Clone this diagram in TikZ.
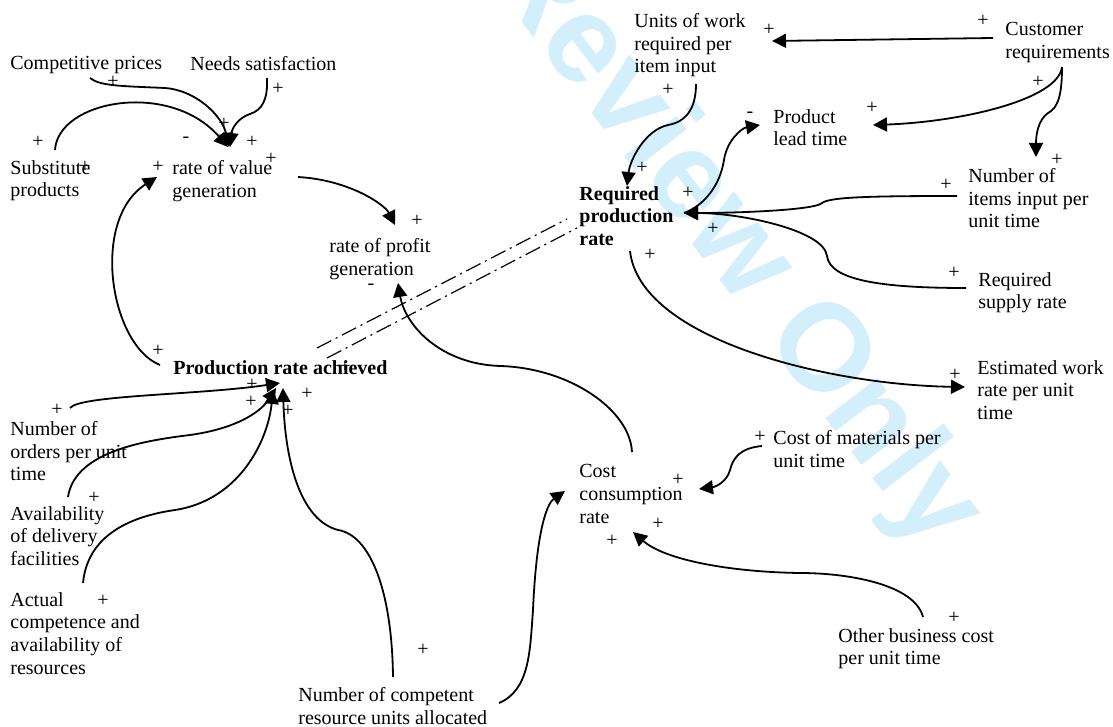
\documentclass[tikz,border=0pt]{standalone}
\usepackage{fontspec}
\setmainfont{Liberation Serif}
\newfontfamily\markfont{Liberation Sans}
\usetikzlibrary{arrows.meta}
\definecolor{markblue}{RGB}{212,239,252}

\begin{document}
\begin{tikzpicture}[x=0.5pt, y=-0.5pt,
every node/.style={inner sep=0pt, anchor=north west, align=left, font=\fontsize{10}{11.35}\selectfont},
key/.style={font=\fontsize{10}{11.35}\selectfont\bfseries},
sign/.style={anchor=center},
link/.style={line width=0.9pt, -{Triangle[length=7pt,width=7pt]}},
compare/.style={line width=0.6pt, dash pattern=on 8pt off 2.5pt on 1pt off 2.5pt}]

\useasboundingbox (0,0) rectangle (1113,727);
% watermark
\begin{scope}
\clip (0,0) rectangle (1113,727);
\node[anchor=center, rotate=-52.5, text=markblue, font=\markfont\bfseries\fontsize{62}{68}\selectfont] (mark) at (731,242) {Review Only};
\end{scope}

% left half
\node (compet) at (10,56) {Competitive prices};
\node (needs) at (190,56) {Needs satisfaction};
\node (subst) at (10,160) {Substitute\\products};
\node (value) at (172,160) {rate of value\\generation};
\node (profit) at (329,238) {rate of profit\\generation};
\node[key] (achieved) at (173,360) {Production rate achieved};
\node (orders) at (10,421) {Number of\\orders per unit\\time};
\node (delivery) at (10,506) {Availability\\of delivery\\facilities};
\node (competence) at (10,592) {Actual\\competence and\\availability of\\resources};
\node (units) at (298,687) {Number of competent\\resource units allocated};

% right half
\node (work) at (634,13) {Units of work\\required per\\item input};
\node (customer) at (1005,22) {Customer\\requirements};
\node (lead) at (773,109) {Product\\lead time};
\node[key] (required) at (579,186) {Required\\production\\rate};
\node (items) at (968,168) {Number of\\items input per\\unit time};
\node (supply) at (978,272) {Required\\supply rate};
\node (estimated) at (977,360) {Estimated work\\rate per unit\\time};
\node (materials) at (773,430) {Cost of materials per\\unit time};
\node (cost) at (579,464) {Cost\\consumption\\rate};
\node (other) at (838,628) {Other business cost\\per unit time};

% polarity signs
\foreach \sx/\sy/\sg [count=\i] in {113/82/+, 278/89/+, 224/124/+, 186/140/-, 252/142/+,
  38/142/+, 271/159/+, 158/167/+, 85/167/+, 417/221/+, 371/287/-, 158/351/+, 345/367/+,
  252/385/+, 251/402/+, 307/394/+, 288/411/+, 57/410/+, 94/498/+, 103/601/+, 423/650/+,
  769/30/+, 983/21/+, 668/90/+, 750/115/-, 872/108/+, 1038/82/+, 642/168/+, 688/193/+,
  1057/160/+, 946/185/+, 713/229/+, 650/255/+, 954/273/+, 955/375/+, 760/437/+,
  678/480/+, 658/524/+, 612/541/+, 954/618/+}
  \node[sign] (s\i) at (\sx,\sy) {\sg};

% links into rate of value generation
\draw[link] ([shift={(80,22)}]compet.north west) .. controls (100,86) and (120,86) .. (165,88)
  .. controls (195,90) and (222,115) .. ([shift={(57,-13)}]value.north west);
\draw[link] ([shift={(77,22)}]needs.north west) .. controls (268,100) and (262,110) .. (250,114)
  .. controls (238,118) and (232,128) .. ([shift={(58,-13)}]value.north west);
\draw[link] ([shift={(45,-10)}]subst.north west) .. controls (58,100) and (170,80) .. ([shift={(56,-13)}]value.north west);
\draw[link] ([shift={(-13,5)}]achieved.north west) .. controls (110,345) and (90,220) .. ([shift={(-15,17)}]value.north west);

% links into rate of profit generation
\draw[link] ([shift={(126,17)}]value.north west) .. controls (350,180) and (385,205) .. ([shift={(66,-13)}]profit.north west);
\draw[link] ([shift={(53,-12)}]cost.north west) .. controls (630,410) and (570,368) .. (500,366)
  .. controls (440,364) and (405,325) .. ([shift={(69,45)}]profit.north west);

% achieved vs required
\draw[compare] ([shift={(144,-12)}]achieved.north west) -- ([shift={(-12,33)}]required.north west);
\draw[compare] ([shift={(154,-2)}]achieved.north west) -- ([shift={(-2,42)}]required.north west);

% customer side
\draw[link] ([shift={(-12,16)}]customer.north west) -- ([shift={(138,28)}]work.north west);
\draw[link] ([shift={(57,45)}]customer.north west) .. controls (1058,100) and (960,122) .. ([shift={(100,16)}]lead.north west);
\draw[link] ([shift={(57,45)}]customer.north west) .. controls (1062,95) and (1058,108) .. (1048,113)
  .. controls (1038,120) and (1036,135) .. ([shift={(68,-11)}]items.north west);

% links around required production rate
\draw[link] ([shift={(62,71)}]work.north west) .. controls (696,110) and (685,122) .. (668,125)
  .. controls (645,130) and (630,160) .. ([shift={(48,0)}]required.north west);
\draw[link] ([shift={(105,27)}]required.north west) .. controls (705,205) and (720,185) .. (724,160)
  .. controls (727,140) and (742,128) .. ([shift={(-13,16)}]lead.north west);
\draw[link] ([shift={(-11,28)}]items.north west) .. controls (870,196) and (830,197) .. (822,203)
  .. controls (815,210) and (740,213) .. ([shift={(105,27)}]required.north west);
\draw[link] ([shift={(-12,16)}]supply.north west) .. controls (880,288) and (830,280) .. (827,256)
  .. controls (824,230) and (740,213) .. ([shift={(105,27)}]required.north west);
\draw[link] ([shift={(51,65)}]required.north west) .. controls (640,340) and (830,385) .. ([shift={(-12,27)}]estimated.north west);

% links into cost consumption rate
\draw[link] ([shift={(-11,16)}]materials.north west) .. controls (740,448) and (733,458) .. (730,470)
  .. controls (727,482) and (715,487) .. ([shift={(120,25)}]cost.north west);
\draw[link] ([shift={(85,-11)}]other.north west) .. controls (915,585) and (850,573) .. (800,573)
  .. controls (730,572) and (665,560) .. ([shift={(54,68)}]cost.north west);
\draw[link] ([shift={(201,16)}]units.north west) .. controls (530,690) and (530,650) .. (533,610)
  .. controls (536,540) and (545,505) .. ([shift={(-14,27)}]cost.north west);

% links into production rate achieved
\draw[link] ([shift={(60,-13)}]orders.north west) .. controls (80,395) and (200,395) .. ([shift={(107,23)}]achieved.north west);
\draw[link] ([shift={(58,-9)}]delivery.north west) .. controls (75,450) and (150,440) .. (190,435)
  .. controls (240,428) and (262,410) .. ([shift={(103,28)}]achieved.north west);
\draw[link] ([shift={(73,-9)}]competence.north west) .. controls (88,530) and (140,515) .. (175,510)
  .. controls (240,500) and (268,440) .. ([shift={(100,30)}]achieved.north west);
\draw[link] ([shift={(95,-10)}]units.north west) .. controls (392,590) and (370,535) .. (338,530)
  .. controls (300,520) and (285,460) .. ([shift={(110,28)}]achieved.north west);
\end{tikzpicture}
\end{document}
